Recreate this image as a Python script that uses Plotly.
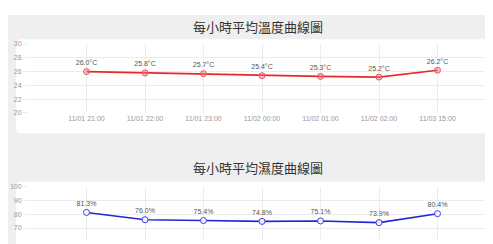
import plotly.graph_objects as go

categories = ["11/01 21:00", "11/01 22:00", "11/01 23:00", "11/02 00:00",
              "11/02 01:00", "11/02 02:00", "11/03 15:00"]
temperature = [26.0, 25.8, 25.7, 25.4, 25.3, 25.2, 26.2]
humidity = [81.3, 76.0, 75.4, 74.8, 75.1, 73.9, 80.4]
temp_title = "每小時平均溫度曲線圖"
hum_title = "每小時平均濕度曲線圖"

OFF = 8  # page body margin
W, H = 493 - OFF, 244 - OFF

def px(x):
    return (x - OFF) / W

def py(y):
    return 1 - (y - OFF) / H

FONT = "Noto Sans CJK TC, Noto Sans, sans-serif"
xs = list(range(len(categories)))

fig = go.Figure()

fig.add_trace(go.Scatter(
    x=xs, y=temperature, xaxis="x", yaxis="y",
    mode="lines+markers+text",
    text=[f"{v:.1f}°C" for v in temperature],
    textposition="top center",
    textfont=dict(size=7, color="#555", family="Liberation Sans, Arial"),
    line=dict(color="#e8282b", width=1.6),
    marker=dict(size=6, color="rgba(240,120,130,0.45)",
                line=dict(color="#ee5560", width=1)),
    cliponaxis=False, showlegend=False,
))
fig.add_trace(go.Scatter(
    x=xs, y=humidity, xaxis="x2", yaxis="y2",
    mode="lines+markers+text",
    text=[f"{v:.1f}%" for v in humidity],
    textposition="top center",
    textfont=dict(size=7, color="#555", family="Liberation Sans, Arial"),
    line=dict(color="#2424d8", width=1.6),
    marker=dict(size=6, color="rgba(255,255,255,0.9)",
                line=dict(color="#3a3ae0", width=1)),
    cliponaxis=False, showlegend=False,
))

shapes = [
    dict(type="rect", xref="paper", yref="paper", layer="below",
         x0=px(8), x1=px(520), y0=py(280), y1=py(11),
         fillcolor="#efefef", line=dict(width=0)),
]

def card(x0, y0, x1, y1, r=5):
    def P(x, y):
        return f"{px(x)},{py(y)}"
    d = (f"M {P(x0+r,y0)} L {P(x1-r,y0)} Q {P(x1,y0)} {P(x1,y0+r)} "
         f"L {P(x1,y1-r)} Q {P(x1,y1)} {P(x1-r,y1)} L {P(x0+r,y1)} "
         f"Q {P(x0,y1)} {P(x0,y1-r)} L {P(x0,y0+r)} Q {P(x0,y0)} {P(x0+r,y0)} Z")
    return dict(type="path", xref="paper", yref="paper", layer="below",
                path=d, fillcolor="white", line=dict(width=0))

shapes.append(card(16, 36, 505, 133))
shapes.append(card(16, 183, 505, 290))

x_range = [-1, -1 + (493 - 28) / 58.5]
axis_common = dict(
    showgrid=True, gridcolor="#ececec", gridwidth=1,
    zeroline=False, showline=False,
    tickfont=dict(size=7, color="#999", family="Liberation Sans, Arial"),
)

y1_dom = [py(112), py(41)]
hum_bottom = 100 - (244 - 188) / 1.42
y2_dom = [0, py(188)]

fig.update_layout(
    width=W, height=H,
    margin=dict(l=0, r=0, t=0, b=0),
    paper_bgcolor="white", plot_bgcolor="rgba(0,0,0,0)",
    font=dict(family=FONT),
    shapes=shapes,
    xaxis=dict(domain=[px(28), 1], range=x_range, anchor="y",
               tickmode="array", tickvals=xs, ticktext=categories,
               ticks="", ticklen=0, **axis_common),
    yaxis=dict(domain=y1_dom, range=[20, 30], dtick=2, anchor="x",
               ticks="outside", ticklen=4, tickcolor="#ececec",
               **axis_common),
    xaxis2=dict(domain=[px(28), 1], range=x_range, anchor="y2",
                tickmode="array", tickvals=xs, ticktext=categories,
                showticklabels=False, ticks="", **axis_common),
    yaxis2=dict(domain=y2_dom, range=[hum_bottom, 100], dtick=10, anchor="x2",
                ticks="outside", ticklen=4, tickcolor="#ececec",
                **axis_common),
    annotations=[
        dict(text=temp_title, xref="paper", yref="paper", x=px(258), y=py(23),
             showarrow=False, xanchor="center", yanchor="middle",
             font=dict(size=13, color="#333", family=FONT)),
        dict(text=hum_title, xref="paper", yref="paper", x=px(258), y=py(168),
             showarrow=False, xanchor="center", yanchor="middle",
             font=dict(size=13, color="#333", family=FONT)),
    ],
)

fig.write_html("out.html")
